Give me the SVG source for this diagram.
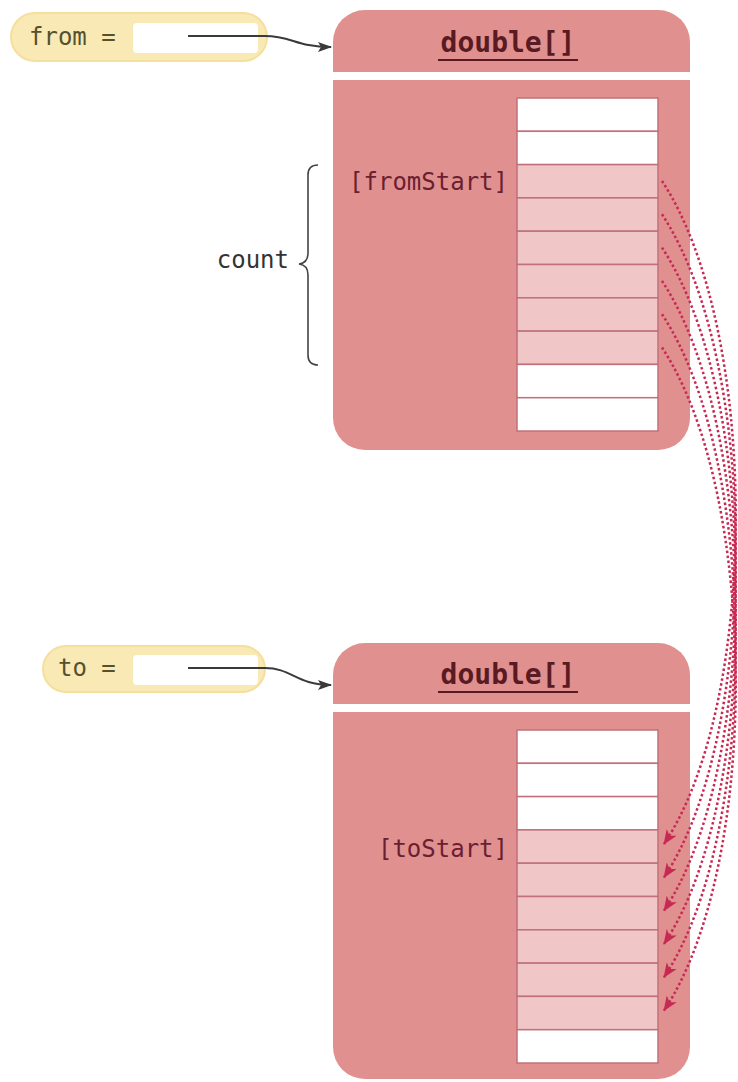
<svg xmlns="http://www.w3.org/2000/svg" width="738" height="1082" viewBox="0 0 738 1082">
<defs>
<style>
.pill{fill:#f9e9b5;stroke:#f6df9c;stroke-width:2}
.slot{fill:#ffffff}
.box{fill:#e0908f}
.sep{fill:#ffffff}
.cw{fill:#ffffff;stroke:#c0707a;stroke-width:1.5}
.cp{fill:#f0c6c6;stroke:#c0707a;stroke-width:1.5}
.mono{font-family:"DejaVu Sans Mono","Liberation Mono",monospace}
.var{font-size:24px;fill:#55502e}
.hdr{font-size:28px;font-weight:bold;fill:#5a1a22}
.idx{font-size:24px;fill:#6a2030}
.ref{fill:none;stroke:#3a3a3a;stroke-width:2}
.copy{fill:none;stroke:#c62a52;stroke-width:2.5;stroke-dasharray:2.5 2.5}
</style>
<marker id="ah" markerWidth="14" markerHeight="10" refX="13" refY="5" orient="auto" markerUnits="userSpaceOnUse">
<path d="M0,0 L14,5 L0,10 L3,5 z" fill="#3a3a3a"/>
</marker>
<marker id="rh" markerWidth="15" markerHeight="12" refX="14" refY="6" orient="auto" markerUnits="userSpaceOnUse">
<path d="M0,0 L15,6 L0,12 L4,6 z" fill="#c62a52"/>
</marker>
</defs>

<g id="fromVar">
<rect class="pill" x="11" y="13" width="256" height="48" rx="24"/>
<rect class="slot" x="133" y="23" width="125" height="30" rx="4"/>
<text class="mono var" x="29" y="45">from =</text>
</g>

<g id="fromArray">
<rect class="box" x="333" y="10" width="357" height="440" rx="32"/>
<rect class="sep" x="333" y="72" width="357" height="8"/>
<text class="mono hdr" x="508" y="52" text-anchor="middle">double[]</text>
<line x1="438" y1="60" x2="578" y2="60" stroke="#5a1a22" stroke-width="2"/>
<rect class="cw" x="517" y="98" width="141" height="33.3"/>
<rect class="cw" x="517" y="131.3" width="141" height="33.3"/>
<rect class="cp" x="517" y="164.6" width="141" height="33.3"/>
<rect class="cp" x="517" y="197.9" width="141" height="33.3"/>
<rect class="cp" x="517" y="231.2" width="141" height="33.3"/>
<rect class="cp" x="517" y="264.5" width="141" height="33.3"/>
<rect class="cp" x="517" y="297.8" width="141" height="33.3"/>
<rect class="cp" x="517" y="331.1" width="141" height="33.3"/>
<rect class="cw" x="517" y="364.4" width="141" height="33.3"/>
<rect class="cw" x="517" y="397.7" width="141" height="33.3"/>
<text class="mono idx" x="508" y="190" text-anchor="end">[fromStart]</text>
</g>

<g id="countBrace">
<path d="M318,165 Q308,165 308,175 L308,253 Q308,263 299,264 Q308,265 308,275 L308,355 Q308,365 318,365" fill="none" stroke="#444" stroke-width="1.6"/>
<text class="mono" x="289" y="268" text-anchor="end" font-size="24" fill="#333">count</text>
</g>

<g id="toVar">
<rect class="pill" x="43" y="646" width="222" height="46" rx="23"/>
<rect class="slot" x="133" y="655" width="125" height="30" rx="4"/>
<text class="mono var" x="58" y="676">to =</text>
</g>

<g id="toArray">
<rect class="box" x="333" y="643" width="357" height="436" rx="32"/>
<rect class="sep" x="333" y="704" width="357" height="8"/>
<text class="mono hdr" x="508" y="684" text-anchor="middle">double[]</text>
<line x1="438" y1="692" x2="578" y2="692" stroke="#5a1a22" stroke-width="2"/>
<rect class="cw" x="517" y="730" width="141" height="33.3"/>
<rect class="cw" x="517" y="763.3" width="141" height="33.3"/>
<rect class="cw" x="517" y="796.6" width="141" height="33.3"/>
<rect class="cp" x="517" y="829.9" width="141" height="33.3"/>
<rect class="cp" x="517" y="863.2" width="141" height="33.3"/>
<rect class="cp" x="517" y="896.5" width="141" height="33.3"/>
<rect class="cp" x="517" y="929.8" width="141" height="33.3"/>
<rect class="cp" x="517" y="963.1" width="141" height="33.3"/>
<rect class="cp" x="517" y="996.4" width="141" height="33.3"/>
<rect class="cw" x="517" y="1029.7" width="141" height="33.3"/>
<text class="mono idx" x="508" y="857" text-anchor="end">[toStart]</text>
</g>

<g id="connectors">
<path class="ref" d="M188,36 L265,36 C292,36 296,47 331,47" marker-end="url(#ah)"/>
<path class="ref" d="M188,668 L265,668 C292,668 296,685 331,685" marker-end="url(#ah)"/>
<path class="copy" d="M662,181 C760,330 760,700 664,844" marker-end="url(#rh)"/>
<path class="copy" d="M662,214.3 C760,363.3 760,733.3 664,877.3" marker-end="url(#rh)"/>
<path class="copy" d="M662,247.6 C760,396.6 760,766.6 664,910.6" marker-end="url(#rh)"/>
<path class="copy" d="M662,280.9 C760,429.9 760,799.9 664,943.9" marker-end="url(#rh)"/>
<path class="copy" d="M662,314.2 C760,463.2 760,833.2 664,977.2" marker-end="url(#rh)"/>
<path class="copy" d="M662,347.5 C760,496.5 760,866.5 664,1010.5" marker-end="url(#rh)"/>
</g>
</svg>
